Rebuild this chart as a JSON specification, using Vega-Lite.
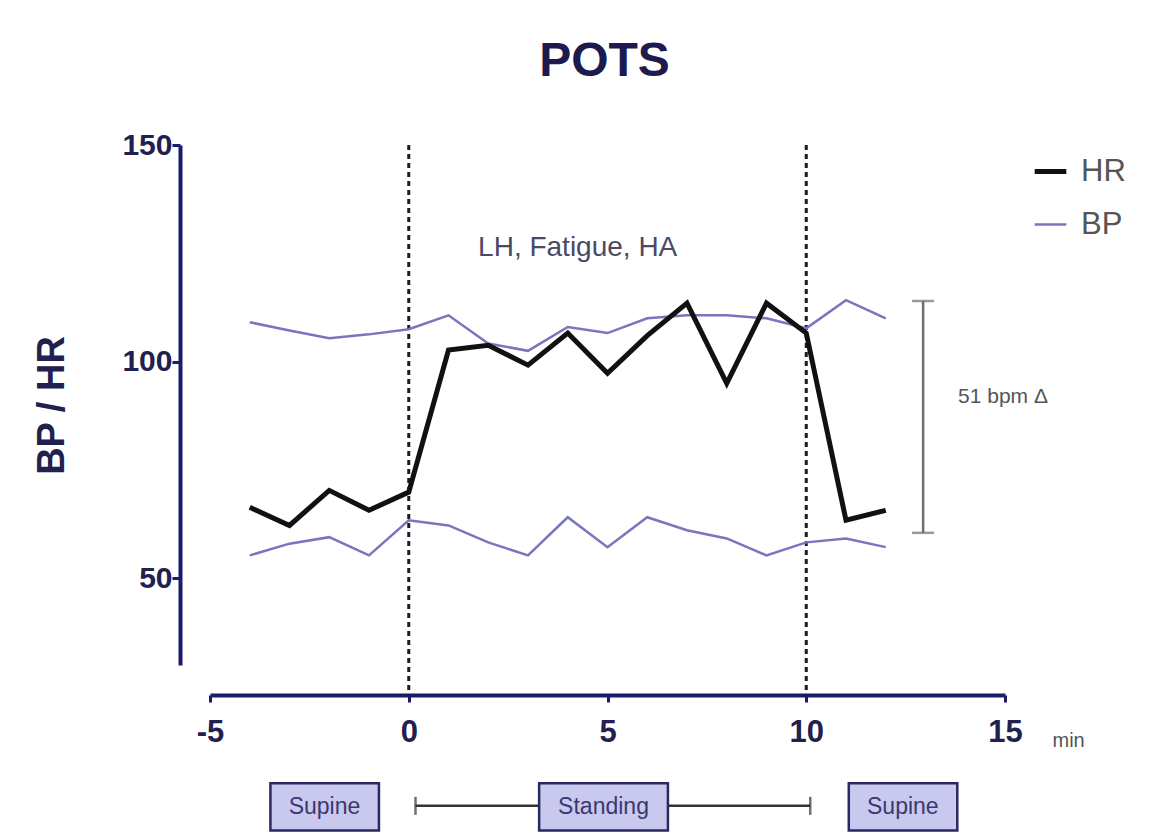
{
  "$schema": "https://vega.github.io/schema/vega-lite/v6.json",
  "width": 795,
  "height": 520,
  "autosize": "none",
  "padding": {"left": 210, "top": 145, "right": 148, "bottom": 167},
  "background": "white",
  "config": {
    "view": {"stroke": null},
    "font": "Liberation Sans"
  },
  "title": {
    "text": "POTS",
    "fontSize": 48,
    "fontWeight": "bold",
    "color": "#1c1a4e",
    "offset": 44,
    "anchor": "middle",
    "dx": -3
  },
  "datasets": {
    "series": [
      {"series": "SBP", "type": "BP", "t": -4, "v": 109.1},
      {"series": "SBP", "type": "BP", "t": -3, "v": 107.2},
      {"series": "SBP", "type": "BP", "t": -2, "v": 105.4},
      {"series": "SBP", "type": "BP", "t": -1, "v": 106.3},
      {"series": "SBP", "type": "BP", "t": 0, "v": 107.5},
      {"series": "SBP", "type": "BP", "t": 1, "v": 110.7},
      {"series": "SBP", "type": "BP", "t": 2, "v": 104.2},
      {"series": "SBP", "type": "BP", "t": 3, "v": 102.5},
      {"series": "SBP", "type": "BP", "t": 4, "v": 108.0},
      {"series": "SBP", "type": "BP", "t": 5, "v": 106.6},
      {"series": "SBP", "type": "BP", "t": 6, "v": 110.0},
      {"series": "SBP", "type": "BP", "t": 7, "v": 110.7},
      {"series": "SBP", "type": "BP", "t": 8, "v": 110.7},
      {"series": "SBP", "type": "BP", "t": 9, "v": 110.0},
      {"series": "SBP", "type": "BP", "t": 10, "v": 107.7},
      {"series": "SBP", "type": "BP", "t": 11, "v": 114.2},
      {"series": "SBP", "type": "BP", "t": 12, "v": 110.0},
      {"series": "DBP", "type": "BP", "t": -4, "v": 55.3},
      {"series": "DBP", "type": "BP", "t": -3, "v": 58.0},
      {"series": "DBP", "type": "BP", "t": -2, "v": 59.5},
      {"series": "DBP", "type": "BP", "t": -1, "v": 55.3},
      {"series": "DBP", "type": "BP", "t": 0, "v": 63.4},
      {"series": "DBP", "type": "BP", "t": 1, "v": 62.2},
      {"series": "DBP", "type": "BP", "t": 2, "v": 58.3},
      {"series": "DBP", "type": "BP", "t": 3, "v": 55.3},
      {"series": "DBP", "type": "BP", "t": 4, "v": 64.1},
      {"series": "DBP", "type": "BP", "t": 5, "v": 57.2},
      {"series": "DBP", "type": "BP", "t": 6, "v": 64.1},
      {"series": "DBP", "type": "BP", "t": 7, "v": 61.1},
      {"series": "DBP", "type": "BP", "t": 8, "v": 59.2},
      {"series": "DBP", "type": "BP", "t": 9, "v": 55.3},
      {"series": "DBP", "type": "BP", "t": 10, "v": 58.3},
      {"series": "DBP", "type": "BP", "t": 11, "v": 59.2},
      {"series": "DBP", "type": "BP", "t": 12, "v": 57.2},
      {"series": "HR", "type": "HR", "t": -4, "v": 66.4},
      {"series": "HR", "type": "HR", "t": -3, "v": 62.2},
      {"series": "HR", "type": "HR", "t": -2, "v": 70.3},
      {"series": "HR", "type": "HR", "t": -1, "v": 65.7},
      {"series": "HR", "type": "HR", "t": 0, "v": 69.9},
      {"series": "HR", "type": "HR", "t": 1, "v": 102.7},
      {"series": "HR", "type": "HR", "t": 2, "v": 103.8},
      {"series": "HR", "type": "HR", "t": 3, "v": 99.2},
      {"series": "HR", "type": "HR", "t": 4, "v": 106.6},
      {"series": "HR", "type": "HR", "t": 5, "v": 97.3},
      {"series": "HR", "type": "HR", "t": 6, "v": 106.0},
      {"series": "HR", "type": "HR", "t": 7, "v": 113.5},
      {"series": "HR", "type": "HR", "t": 8, "v": 95.0},
      {"series": "HR", "type": "HR", "t": 9, "v": 113.5},
      {"series": "HR", "type": "HR", "t": 10, "v": 106.6},
      {"series": "HR", "type": "HR", "t": 11, "v": 63.4},
      {"series": "HR", "type": "HR", "t": 12, "v": 65.7}
    ],
    "phaseLines": [{"t": 0, "top": 150, "bottom": 23}, {"t": 10, "top": 150, "bottom": 23}],
    "delta": [{"t": 12.94, "low": 60.5, "high": 114}],
    "deltaEnds": [{"t": 12.94, "v": 60.5}, {"t": 12.94, "v": 114}],
    "symptom": [{"label": "LH, Fatigue, HA", "t": 4.25, "v": 126.2}],
    "deltaLabel": [{"label": "51 bpm Δ", "t": 14.95, "v": 91.8}],
    "unit": [{"label": "min", "t": 16.6, "v": 12.5}],
    "standing": [{"start": 0.17, "end": 10.1, "v": -2.5}],
    "standingEnds": [{"t": 0.17, "v": -2.5}, {"t": 10.1, "v": -2.5}],
    "phases": [
      {"phase": "Supine", "start": -3.48, "end": -0.75, "mid": -2.12, "low": -8.2, "high": 2.7, "v": -2.8},
      {"phase": "Standing", "start": 3.28, "end": 6.52, "mid": 4.9, "low": -8.2, "high": 2.7, "v": -2.8},
      {"phase": "Supine", "start": 11.07, "end": 13.8, "mid": 12.43, "low": -8.2, "high": 2.7, "v": -2.8}
    ]
  },
  "encoding": {
    "x": {
      "field": "t",
      "type": "quantitative",
      "scale": {"domain": [-5, 15], "nice": false, "zero": false},
      "axis": {
        "values": [-5, 0, 5, 10, 15],
        "labelExpr": "datum.value",
        "labelFlush": false,
        "title": null,
        "grid": false,
        "offset": 30,
        "domainColor": "#1c1a6b",
        "domainWidth": 4,
        "tickColor": "#1c1a6b",
        "tickWidth": 3,
        "tickSize": 7,
        "labelFontSize": 31,
        "labelFontWeight": "bold",
        "labelColor": "#22204e",
        "labelPadding": 15
      }
    },
    "y": {
      "field": "v",
      "type": "quantitative",
      "scale": {"domain": [30, 150], "nice": false, "zero": false},
      "axis": {
        "values": [50, 100, 150],
        "labelFlush": false,
        "title": "BP / HR",
        "titleFontSize": 38,
        "titleFontWeight": "bold",
        "titleColor": "#22204e",
        "titlePadding": 50,
        "grid": false,
        "offset": 30,
        "domainColor": "#1c1a6b",
        "domainWidth": 4,
        "tickColor": "#1c1a6b",
        "tickWidth": 3,
        "tickSize": 8,
        "labelFontSize": 30,
        "labelFontWeight": "bold",
        "labelColor": "#22204e",
        "labelPadding": 0
      }
    }
  },
  "layer": [
    {
      "data": {"name": "phaseLines"},
      "mark": {"type": "rule", "color": "#1a1a2a", "strokeWidth": 3, "strokeDash": [5, 4]},
      "encoding": {
        "y": {"field": "top", "type": "quantitative"},
        "y2": {"field": "bottom"}
      }
    },
    {
      "data": {"name": "series"},
      "mark": {"type": "line", "strokeJoin": "miter", "clip": false},
      "encoding": {
        "detail": {"field": "series", "type": "nominal"},
        "color": {
          "field": "type",
          "type": "nominal",
          "scale": {"domain": ["HR", "BP"], "range": ["#111111", "#7876bd"]},
          "legend": {
            "title": null,
            "orient": "none",
            "legendX": 822,
            "legendY": 8,
            "symbolType": "stroke",
            "symbolSize": 1000,
            "labelFontSize": 31,
            "labelColor": "#555555",
            "labelOffset": 12,
            "rowPadding": 20
          }
        },
        "strokeWidth": {
          "field": "type",
          "type": "nominal",
          "scale": {"domain": ["HR", "BP"], "range": [5, 2.5]},
          "legend": {
            "title": null,
            "orient": "none",
            "legendX": 822,
            "legendY": 8,
            "symbolType": "stroke",
            "symbolSize": 1000,
            "labelFontSize": 31,
            "labelColor": "#555555",
            "labelOffset": 12,
            "rowPadding": 20
          }
        },
        "order": {"field": "t", "type": "quantitative"}
      }
    },
    {
      "data": {"name": "delta"},
      "mark": {"type": "rule", "color": "#6e6e6e", "strokeWidth": 2.5},
      "encoding": {
        "y": {"field": "low", "type": "quantitative"},
        "y2": {"field": "high"}
      }
    },
    {
      "data": {"name": "deltaEnds"},
      "mark": {"type": "tick", "orient": "horizontal", "color": "#6e6e6e", "thickness": 2.5, "size": 22}
    },
    {
      "data": {"name": "standing"},
      "mark": {"type": "rule", "color": "#333333", "strokeWidth": 2.5},
      "encoding": {
        "x": {"field": "start", "type": "quantitative"},
        "x2": {"field": "end"}
      }
    },
    {
      "data": {"name": "standingEnds"},
      "mark": {"type": "tick", "orient": "vertical", "color": "#333333", "thickness": 2.5, "size": 18}
    },
    {
      "data": {"name": "phases"},
      "mark": {"type": "rect", "fill": "#c9c8ee", "stroke": "#2a2860", "strokeWidth": 2.5},
      "encoding": {
        "x": {"field": "start", "type": "quantitative"},
        "x2": {"field": "end"},
        "y": {"field": "low", "type": "quantitative"},
        "y2": {"field": "high"}
      }
    },
    {
      "data": {"name": "phases"},
      "mark": {"type": "text", "fontSize": 23, "color": "#3a3870", "baseline": "middle", "align": "center"},
      "encoding": {
        "x": {"field": "mid", "type": "quantitative"},
        "text": {"field": "phase"}
      }
    },
    {
      "data": {"name": "symptom"},
      "mark": {"type": "text", "fontSize": 28, "color": "#4a4a66", "baseline": "middle", "align": "center"},
      "encoding": {"text": {"field": "label"}}
    },
    {
      "data": {"name": "deltaLabel"},
      "mark": {"type": "text", "fontSize": 21, "color": "#555555", "baseline": "middle", "align": "center"},
      "encoding": {"text": {"field": "label"}}
    },
    {
      "data": {"name": "unit"},
      "mark": {"type": "text", "fontSize": 20, "color": "#555555", "baseline": "middle", "align": "center"},
      "encoding": {"text": {"field": "label"}}
    }
  ]
}
